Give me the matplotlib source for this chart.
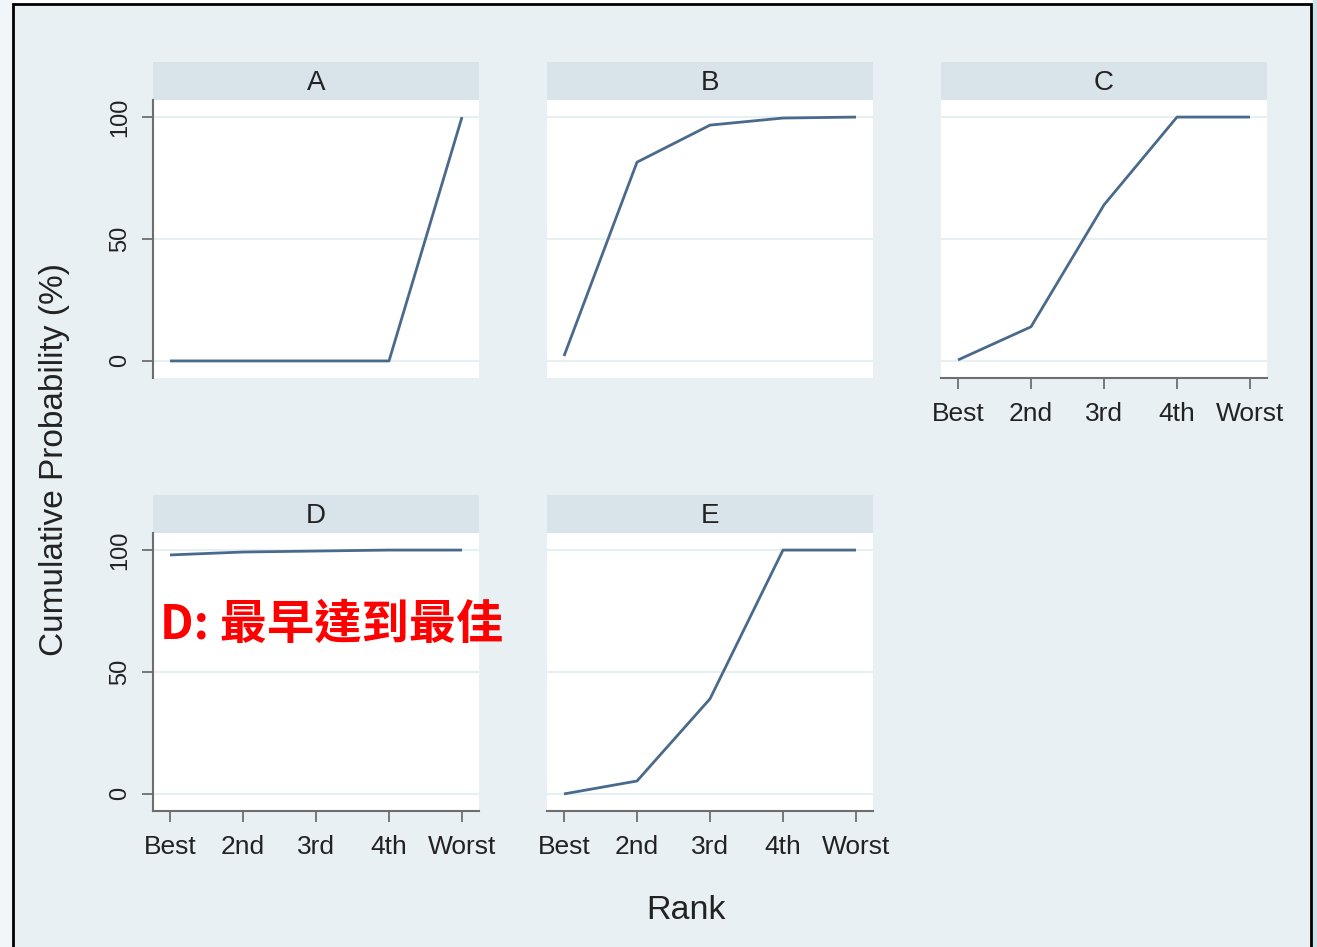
import matplotlib.pyplot as plt
from matplotlib.patches import Rectangle

# cumulative ranking probabilities (%) per treatment
ranks = ["Best", "2nd", "3rd", "4th", "Worst"]
cum_a = [0, 0, 0, 0, 100]
cum_b = [2, 81.5, 96.7, 99.6, 100]
cum_c = [0.4, 14, 64, 100, 100]
cum_d = [98, 99.2, 99.6, 100, 100]
cum_e = [0, 5.3, 39, 100, 100]

W, H = 1317, 947
LINE = "#4a6a8c"
BG = "#e8f0f3"
HEAD = "#d8e3ea"
GRID = "#e6eff2"
AXC = "#6e6e6e"

plt.rcParams['font.family'] = ['Liberation Sans', 'DejaVu Sans']

fig = plt.figure(figsize=(W / 100, H / 100), dpi=100, facecolor="white")

# outer frame
fig.patches.append(Rectangle((0, 0), 13 / W, 1, transform=fig.transFigure,
                             facecolor="#f2f6f8", edgecolor="none", zorder=-3))
fig.patches.append(Rectangle((13 / W, -0.01), (1311 - 13) / W, 1 - 4 / H + 0.01,
                             transform=fig.transFigure, facecolor=BG,
                             edgecolor="black", linewidth=2, zorder=-2))
fig.patches.append(Rectangle((1313 / W, 0), 4 / W, 1, transform=fig.transFigure,
                             facecolor="#cde2ea", edgecolor="none", zorder=-3))


def px_axes(x0, y0, x1, y1):
    return fig.add_axes([x0 / W, 1 - y1 / H, (x1 - x0) / W, (y1 - y0) / H])


def panel(x0, top, title, values, show_y, show_x):
    # header strip
    hd = px_axes(x0, top, x0 + 326, top + 38)
    hd.set_facecolor(HEAD)
    hd.set_xticks([])
    hd.set_yticks([])
    for s in hd.spines.values():
        s.set_visible(False)
    hd.text(0.5, 0.45, title, ha="center", va="center", fontsize=20, color="#222222")

    ax = px_axes(x0, top + 38, x0 + 326, top + 316)
    ax.set_facecolor("white")
    xs = range(len(ranks))
    ax.plot(xs, values, color=LINE, lw=2.0, solid_capstyle="butt", zorder=3)
    ax.set_xlim(-0.233, 4.233)
    ax.set_ylim(-7, 107)
    for g in (0, 50, 100):
        ax.axhline(g, color=GRID, lw=1.5, zorder=1)
    for s in ax.spines.values():
        s.set_visible(False)
    ax.set_yticks([0, 50, 100])
    ax.set_xticks(list(xs))
    if show_y:
        ax.spines["left"].set_visible(True)
        ax.spines["left"].set_color(AXC)
        ax.spines["left"].set_linewidth(1.5)
        ax.tick_params(axis="y", length=8, width=1.3, color=AXC, pad=8)
        ax.set_yticklabels(["0", "50", "100"], rotation=90, va="center",
                           fontsize=17, color="#222222")
    else:
        ax.tick_params(axis="y", left=False, labelleft=False)
    if show_x:
        ax.spines["bottom"].set_visible(True)
        ax.spines["bottom"].set_color(AXC)
        ax.spines["bottom"].set_linewidth(1.5)
        ax.tick_params(axis="x", length=8, width=1.3, color=AXC, pad=9)
        ax.set_xticklabels(ranks, fontsize=19, color="#222222")
    else:
        ax.tick_params(axis="x", bottom=False, labelbottom=False)
    return ax


panel(153, 62, "A", cum_a, True, False)
panel(547, 62, "B", cum_b, False, False)
panel(941, 62, "C", cum_c, False, True)
ax_d = panel(153, 495, "D", cum_d, True, True)
panel(547, 495, "E", cum_e, False, True)

fig.text(55 / W, 1 - 460 / H, "Cumulative Probability (%)", rotation=90,
         ha="center", va="center", fontsize=24, color="#222222")
fig.text(686 / W, 1 - 910 / H, "Rank", ha="center", va="center",
         fontsize=24.5, color="#222222")

fig.text(160 / W, 1 - 625 / H, "D: 最早達到最佳", ha="left", va="center",
         fontsize=34, fontweight="bold", color="#ff0000",
         family=['Noto Sans CJK TC', 'DejaVu Sans'])

fig.savefig("out.png", dpi=100, facecolor=fig.get_facecolor())
